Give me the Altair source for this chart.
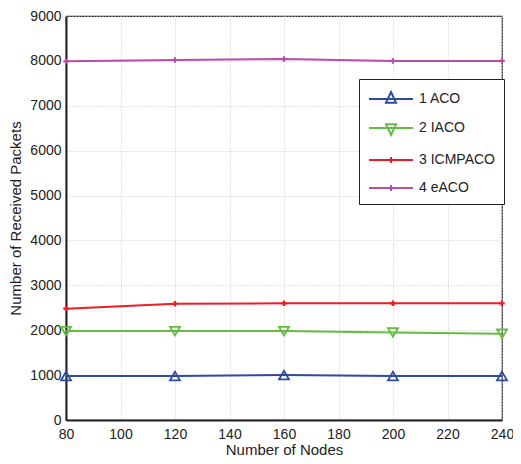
import altair as alt
import pandas as pd

nodes = [80, 120, 160, 200, 240]
series_names = ["1 ACO", "2 IACO", "3 ICMPACO", "4 eACO"]
aco = [980, 980, 1000, 980, 980]
iaco = [1980, 1980, 1980, 1950, 1920]
icmpaco = [2480, 2590, 2600, 2600, 2600]
eaco = [7990, 8020, 8040, 8000, 8000]
colors = ["#2f4b9e", "#66bb44", "#ee1c25", "#b94fa2"]
y_ticks = list(range(0, 9001, 1000))
x_ticks = list(range(80, 241, 20))

rows = []
for name, vals in zip(series_names, [aco, iaco, icmpaco, eaco]):
    for n, v in zip(nodes, vals):
        rows.append({"series": name, "nodes": n, "packets": v})
df = pd.DataFrame(rows)

FONT = "Liberation Sans"

color_scale = alt.Scale(domain=series_names, range=colors)

x_enc = alt.X(
    "nodes:Q",
    scale=alt.Scale(domain=[80, 240], nice=False, zero=False),
    axis=alt.Axis(values=x_ticks, title="Number of Nodes", format="d", labelPadding=7,
                  titlePadding=1, labelFlush=False, labelOverlap=False),
)
y_enc = alt.Y(
    "packets:Q",
    scale=alt.Scale(domain=[0, 9000], nice=False),
    axis=alt.Axis(values=y_ticks, title="Number of Received Packets", format="d", labelPadding=5,
                  titlePadding=6, labelFlush=False, labelOverlap=False),
)

lines = alt.Chart(df).mark_line(strokeWidth=2).encode(
    x=x_enc, y=y_enc,
    color=alt.Color("series:N", scale=color_scale, legend=None),
    detail="series:N",
)

tri_points = alt.Chart(df).transform_filter(
    alt.FieldOneOfPredicate(field="series", oneOf=series_names[:2])
).mark_point(filled=False, strokeWidth=1.8, opacity=1, size=100).encode(
    x=x_enc, y=y_enc,
    color=alt.Color("series:N", scale=color_scale, legend=None),
    shape=alt.Shape("series:N", scale=alt.Scale(domain=series_names[:2],
                    range=["triangle-up", "triangle-down"]), legend=None),
)

cross_points = alt.Chart(df).transform_filter(
    alt.FieldOneOfPredicate(field="series", oneOf=series_names[2:])
).mark_point(filled=True, opacity=1, size=30, shape="cross").encode(
    x=x_enc, y=y_enc,
    color=alt.Color("series:N", scale=color_scale, legend=None),
)

legend_paths = [
    "M-2.2,0H2.2M0,-0.7L0.5,0.37L-0.5,0.37Z",
    "M-2.2,0H2.2M0,0.7L0.5,-0.37L-0.5,-0.37Z",
    "M-2.2,0H2.2M0,-0.3V0.3M-0.25,0H0.25",
    "M-2.2,0H2.2M0,-0.3V0.3M-0.25,0H0.25",
]

leg = dict(
    title=None, orient="none", legendX=293, legendY=63,
    symbolSize=400, symbolStrokeWidth=2, symbolOpacity=1,
    symbolOffset=12, labelOffset=17,
    labelFont=FONT, labelFontSize=14, labelColor="#222",
    strokeColor="#222", fillColor="white", padding=9, rowPadding=10,
)

legend_layer = alt.Chart(df).mark_point(filled=False, opacity=0).encode(
    x=x_enc, y=y_enc,
    color=alt.Color("series:N", scale=alt.Scale(domain=series_names, range=colors),
                    legend=alt.Legend(**leg)),
    shape=alt.Shape("series:N", scale=alt.Scale(domain=series_names, range=legend_paths),
                    legend=alt.Legend(**leg)),
)

chart = alt.layer(lines, tri_points, cross_points, legend_layer).resolve_scale(
    shape="independent", color="independent"
).properties(
    width=436, height=404,
    autosize=alt.AutoSizeParams(type="none"),
    padding={"left": 58, "top": 8, "right": 11, "bottom": 36},
).configure_view(
    stroke="#222", strokeWidth=1.2
).configure_axis(
    labelFont=FONT, labelFontSize=14, labelColor="#222",
    titleFont=FONT, titleFontSize=15, titleFontWeight="normal", titleColor="#222",
    grid=True, gridColor="#c8c8c8", gridDash=[1, 2], gridWidth=1,
    domainColor="#222", domainWidth=2, tickSize=0,
)

chart.save("out.html", embed_options={"renderer": "svg", "actions": False})
